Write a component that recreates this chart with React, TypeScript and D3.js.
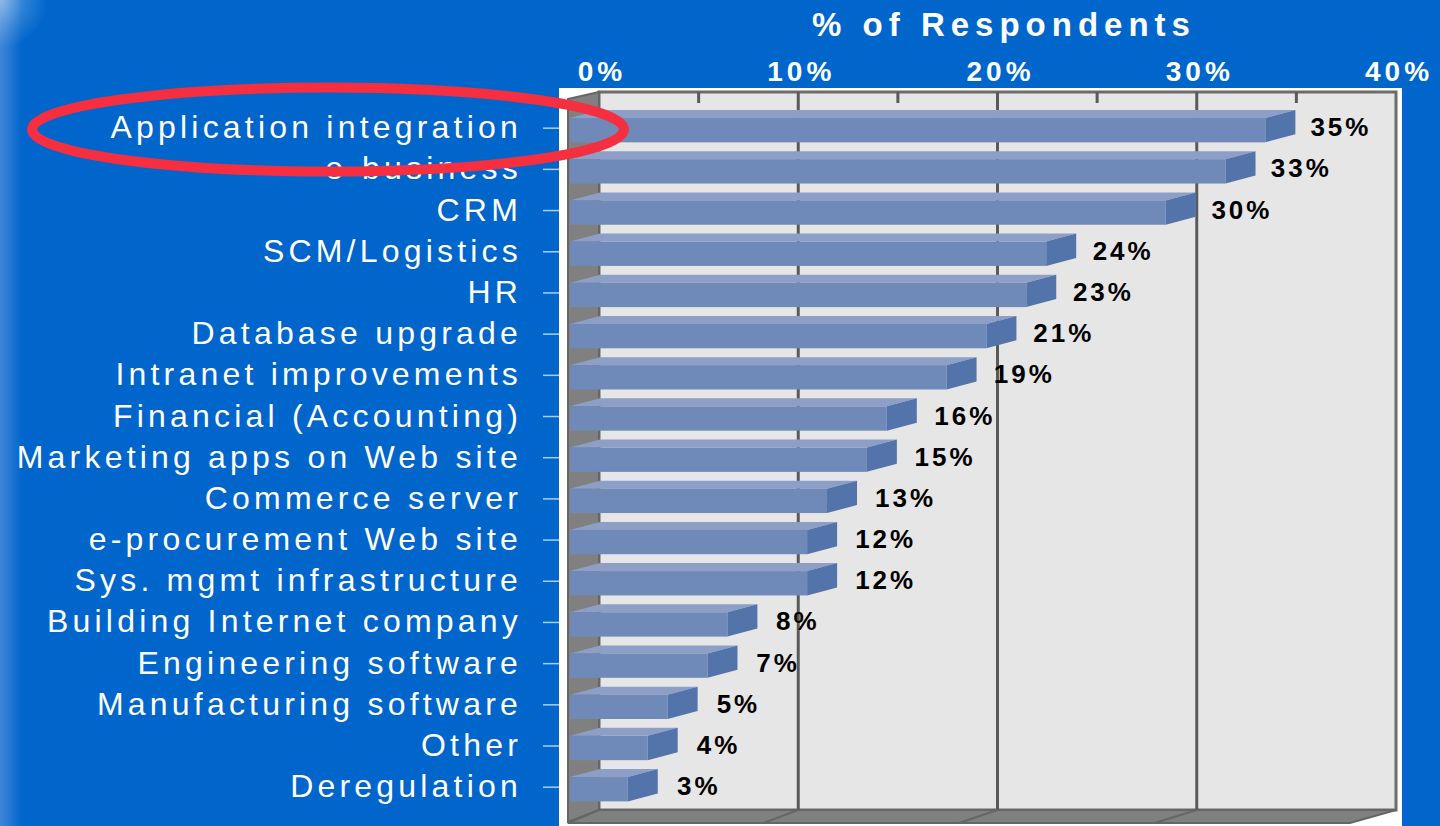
import React from "react";
import * as d3 from "d3";

const categories = ["Application integration","e-business","CRM","SCM/Logistics","HR","Database upgrade","Intranet improvements","Financial (Accounting)","Marketing apps on Web site","Commerce server","e-procurement Web site","Sys. mgmt infrastructure","Building Internet company","Engineering software","Manufacturing software","Other","Deregulation"];
const values = [35,33,30,24,23,21,19,16,15,13,12,12,8,7,5,4,3];
const axisTicks = [0,10,20,30,40];
const minorTicks = [5,15,25,35];

const W = 1440, H = 826;
const depthX = 31, depthY = 8;
const frontLeft = 568;
const backTop = 92, backBottom = 810;
const xBack = d3.scaleLinear().domain([0,40]).range([599,1396]);
const xBar = d3.scaleLinear().domain([0,40]).range([frontLeft,frontLeft+797]);
const xFloor = d3.scaleLinear().domain([0,40]).range([frontLeft,1350]);
const labelGap = d3.scaleLinear().domain([5,35]).range([49,45]);
const yBand = d3.scaleBand<string>().domain(categories).range([105.7,805.7]).paddingInner(0.215).paddingOuter(0.105);
const sans = "'Liberation Sans', Arial, sans-serif";
const pts = (p:number[][]) => p.map(a=>a.join(",")).join(" ");

export default function App(){
  const bh = yBand.bandwidth();
  return (
    <svg width={W} height={H} viewBox={`0 0 ${W} ${H}`} style={{position:"absolute",left:0,top:0,display:"block"}}>
      <defs>
        <linearGradient id="edgeL" x1="0" x2="1" y1="0" y2="0">
          <stop offset="0" stopColor="#3f86d8"/><stop offset="1" stopColor="#0066cc"/>
        </linearGradient>
        <radialGradient id="corner" gradientUnits="userSpaceOnUse" cx={0} cy={0} r={48}>
          <stop offset="0" stopColor="#ffffff" stopOpacity="0.42"/>
          <stop offset="0.55" stopColor="#ffffff" stopOpacity="0.16"/>
          <stop offset="1" stopColor="#ffffff" stopOpacity="0"/>
        </radialGradient>
      </defs>
      <rect width={W} height={H} fill="#0066cc"/>
      <rect x={0} y={0} width={22} height={H} fill="url(#edgeL)"/>
      <rect x={0} y={0} width={48} height={48} fill="url(#corner)"/>

      <rect x={559} y={88} width={843} height={738} fill="#ffffff"/>
      <rect x={599} y={backTop} width={797} height={backBottom-backTop} fill="#e6e6e6" stroke="#6b6b6b" strokeWidth={3}/>
      <polygon points={pts([[frontLeft,99],[599,backTop],[599,backBottom],[frontLeft,822]])} fill="#808080" stroke="#666" strokeWidth={2}/>
      <polygon points={pts([[frontLeft,823],[599,backBottom],[1396,backBottom],[1350,823]])} fill="#808080" stroke="#666" strokeWidth={2}/>

      {axisTicks.slice(1,-1).map(t=>(
        <g key={t}>
          <line x1={xBack(t)} x2={xBack(t)} y1={backTop} y2={backBottom} stroke="#5a5a5a" strokeWidth={3}/>
          <line x1={xBack(t)} x2={xFloor(t)} y1={backBottom} y2={823} stroke="#666" strokeWidth={2}/>
        </g>
      ))}
      {minorTicks.map(t=>(
        <line key={t} x1={xBack(t)} x2={xBack(t)} y1={backTop} y2={103} stroke="#5a5a5a" strokeWidth={3}/>
      ))}

      {categories.map((c,i)=>{
        const y0 = yBand(c)! + depthY;
        const y1 = y0 + bh - depthY;
        const mid = (y0+y1)/2;
        const x0 = 570, x1 = xBar(values[i]);
        const dx = depthX - 1;
        return (
          <g key={c}>
            <polygon points={pts([[x0,y0],[x0+dx,y0-depthY],[x1+dx,y0-depthY],[x1,y0]])} fill="#8d9fc6"/>
            <rect x={x0} y={y0} width={x1-x0} height={y1-y0} fill="#6f8ab8"/>
            <polygon points={pts([[x1,y0],[x1+dx,y0-depthY],[x1+dx,y1-depthY],[x1,y1]])} fill="#5374ab"/>
            <text x={x1+labelGap(values[i])} y={mid+6} fontFamily={sans} fontWeight={700} fontSize={26} letterSpacing={3} fill="#000">{values[i]}%</text>
            <line x1={543} x2={559} y1={mid-2} y2={mid-2} stroke="#a9cdf0" strokeWidth={1.5}/>
            <text x={522} y={mid+8} textAnchor="end" fontFamily={sans} fontSize={32} letterSpacing={4.2} fill="#fff">{c}</text>
          </g>
        );
      })}

      {axisTicks.map(t=>(
        <text key={t} x={xBack(t)+3} y={81} textAnchor="middle" fontFamily={sans} fontWeight={700} fontSize={28} letterSpacing={4} fill="#fff">{t}%</text>
      ))}
      <text x={1004} y={36} textAnchor="middle" fontFamily={sans} fontWeight={700} fontSize={33} letterSpacing={6} fill="#fff">% of Respondents</text>

      <ellipse cx={328} cy={129.5} rx={296} ry={42} fill="none" stroke="#f52f40" strokeWidth={10}/>
    </svg>
  );
}
